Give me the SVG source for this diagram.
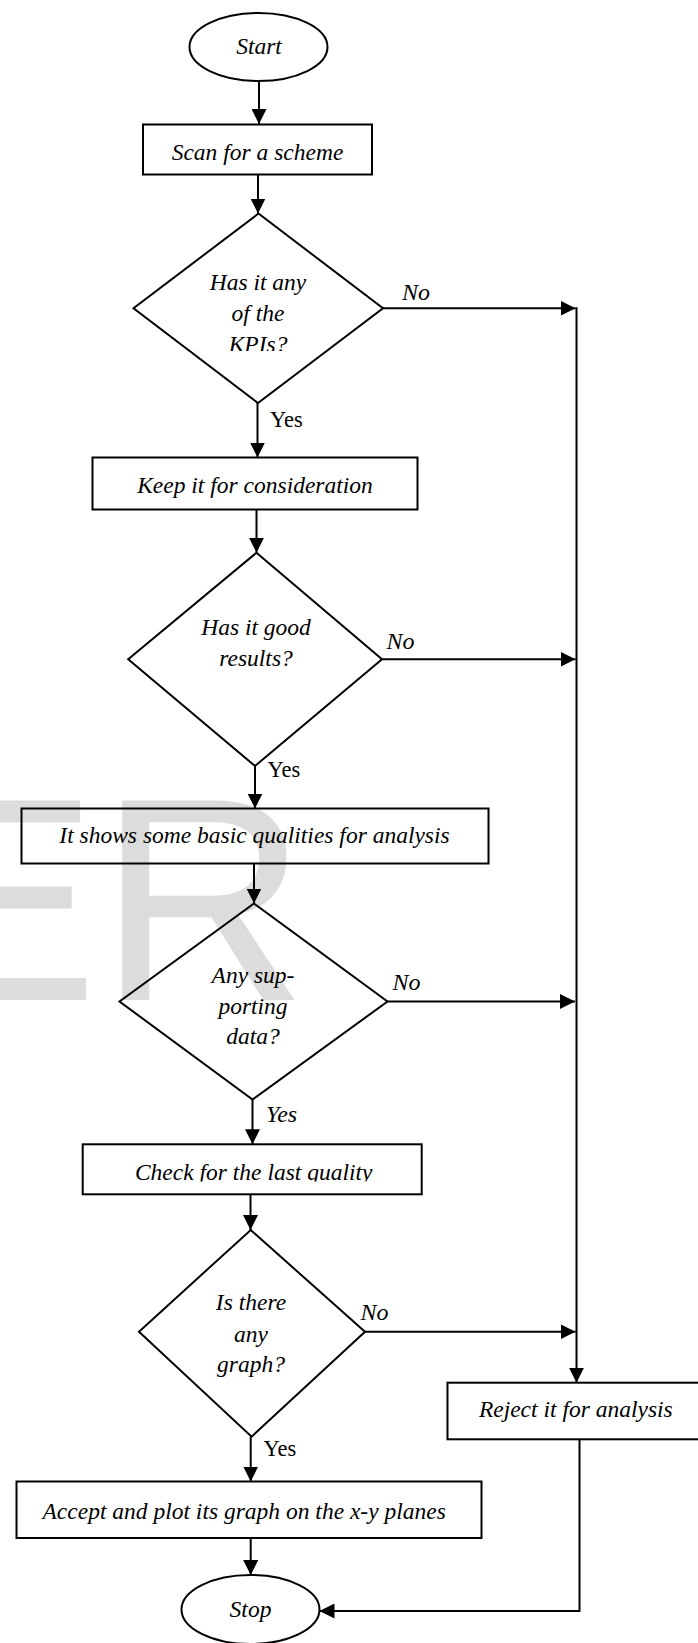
<svg xmlns="http://www.w3.org/2000/svg" width="698" height="1643" viewBox="0 0 698 1643">
<style>
.bg{fill:#ffffff}
.wm{font-family:"Liberation Sans",Arial,sans-serif;font-size:290px;fill:#dcdcdc}
.shape{fill:none;stroke:#000;stroke-width:2}
.t{font-family:"Liberation Serif","Times New Roman",serif;font-style:italic;font-size:23.5px;fill:#000;text-anchor:middle}
.no{font-family:"Liberation Serif","Times New Roman",serif;font-style:italic;font-size:24px;fill:#000}
.yes{font-family:"Liberation Serif","Times New Roman",serif;font-size:22.5px;fill:#000}
.yesi{font-family:"Liberation Serif","Times New Roman",serif;font-style:italic;font-size:24px;fill:#000}
.c{fill:none;stroke:#000;stroke-width:2}
</style>
<defs>
<marker id="ah" markerUnits="userSpaceOnUse" markerWidth="15" markerHeight="15" refX="15" refY="7.5" orient="auto">
<path d="M0,0 L15,7.5 L0,15 z" fill="#000"/>
</marker>
<clipPath id="clipK"><rect x="150" y="250" width="220" height="101"/></clipPath>
<clipPath id="clipC"><rect x="83" y="1146" width="338" height="35.5"/></clipPath>
</defs>
<rect class="bg" x="0" y="0" width="698" height="1643"/>
<text class="wm" x="-95" y="1000">ER</text>

<g id="connectors">
<line class="c" x1="259" y1="81" x2="259" y2="124" marker-end="url(#ah)"/>
<line class="c" x1="258" y1="174.5" x2="258" y2="213.5" marker-end="url(#ah)"/>
<line class="c" x1="383" y1="308.3" x2="575.5" y2="308.3" marker-end="url(#ah)"/>
<line class="c" x1="257.5" y1="403" x2="257.5" y2="457.5" marker-end="url(#ah)"/>
<line class="c" x1="256.5" y1="509.5" x2="256.5" y2="552.7" marker-end="url(#ah)"/>
<line class="c" x1="382" y1="659.3" x2="575.5" y2="659.3" marker-end="url(#ah)"/>
<line class="c" x1="255" y1="766" x2="255" y2="808.5" marker-end="url(#ah)"/>
<line class="c" x1="254" y1="863.5" x2="254" y2="903.5" marker-end="url(#ah)"/>
<line class="c" x1="387.5" y1="1001.5" x2="575" y2="1001.5" marker-end="url(#ah)"/>
<line class="c" x1="252.5" y1="1099.5" x2="252.5" y2="1144.3" marker-end="url(#ah)"/>
<line class="c" x1="250.5" y1="1194.3" x2="250.5" y2="1230" marker-end="url(#ah)"/>
<line class="c" x1="365" y1="1331.7" x2="575.5" y2="1331.7" marker-end="url(#ah)"/>
<line class="c" x1="576.5" y1="307.3" x2="576.5" y2="1382.7" marker-end="url(#ah)"/>
<line class="c" x1="250.7" y1="1436.7" x2="250.7" y2="1481.5" marker-end="url(#ah)"/>
<line class="c" x1="250.7" y1="1538" x2="250.7" y2="1575" marker-end="url(#ah)"/>
<polyline class="c" points="579.5,1439.3 579.5,1611 319.5,1611" marker-end="url(#ah)"/>
<text class="no" x="402" y="300">No</text>
<text class="yes" x="270" y="426.5">Yes</text>
<text class="no" x="386.5" y="649.3">No</text>
<text class="yes" x="267.5" y="776.5">Yes</text>
<text class="no" x="392.5" y="989.5">No</text>
<text class="yesi" x="266" y="1121.5">Yes</text>
<text class="no" x="360.5" y="1320">No</text>
<text class="yes" x="263.5" y="1456">Yes</text>
</g>

<g id="start">
<ellipse class="shape" cx="258.5" cy="47" rx="69" ry="34"/>
<text class="t" x="259" y="53.5">Start</text>
</g>
<g id="scan">
<rect class="shape" x="143" y="124.5" width="229" height="50"/>
<text class="t" x="257.5" y="159.5">Scan for a scheme</text>
</g>
<g id="kpis">
<polygon class="shape" points="258.5,213.5 383,308.3 258,403 133.5,308.3"/>
<g clip-path="url(#clipK)">
<text class="t" x="258" y="289.5">Has it any</text>
<text class="t" x="258" y="320.5">of the</text>
<text class="t" x="258" y="351.5">KPIs?</text>
</g>
</g>
<g id="keep">
<rect class="shape" x="92.5" y="457.5" width="325" height="52"/>
<text class="t" x="255" y="492.7">Keep it for consideration</text>
</g>
<g id="good">
<polygon class="shape" points="256.5,552.7 382,659.3 255,766 128.2,659.3"/>
<text class="t" x="256" y="635">Has it good</text>
<text class="t" x="256" y="666">results?</text>
</g>
<g id="basic">
<rect class="shape" x="21.5" y="808.5" width="467" height="55"/>
<text class="t" x="254.5" y="843.3">It shows some basic qualities for analysis</text>
</g>
<g id="supporting">
<polygon class="shape" points="254,903.5 387.5,1001.5 252.5,1099.5 119.5,1001.5"/>
<text class="t" x="253" y="982.5">Any sup-</text>
<text class="t" x="253" y="1013.5">porting</text>
<text class="t" x="253" y="1044">data?</text>
</g>
<g id="check">
<rect class="shape" x="82.7" y="1144.3" width="339" height="50"/>
<g clip-path="url(#clipC)">
<text class="t" x="253.7" y="1180">Check for the last quality</text>
</g>
</g>
<g id="graph">
<polygon class="shape" points="250.7,1230 365,1331.7 251.6,1436.7 139,1331.7"/>
<text class="t" x="251" y="1310">Is there</text>
<text class="t" x="251" y="1341.7">any</text>
<text class="t" x="251" y="1371.7">graph?</text>
</g>
<g id="reject">
<rect class="shape" x="447.5" y="1382.7" width="260" height="56.6"/>
<text class="t" x="575.8" y="1416.7">Reject it for analysis</text>
</g>
<g id="accept">
<rect class="shape" x="16.5" y="1481.5" width="465" height="56.5"/>
<text class="t" x="244.2" y="1519">Accept and plot its graph on the x-y planes</text>
</g>
<g id="stop">
<ellipse class="shape" cx="250.5" cy="1609.5" rx="69" ry="34.5"/>
<text class="t" x="250.5" y="1617">Stop</text>
</g>
</svg>
